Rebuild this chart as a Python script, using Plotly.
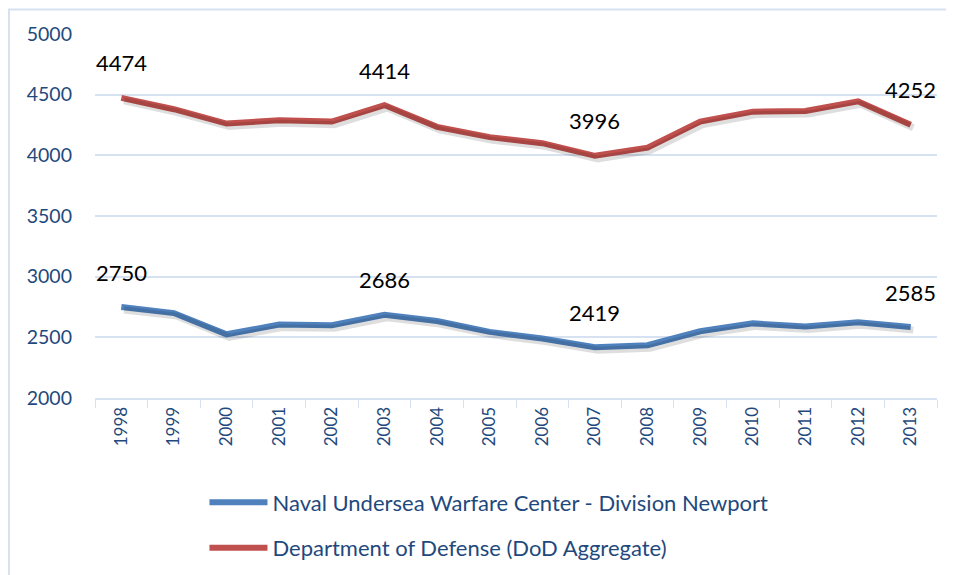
import plotly.graph_objects as go

years = [str(y) for y in range(1998, 2014)]
nuwc = [2750, 2700, 2525, 2605, 2600, 2686, 2635, 2545, 2490, 2419, 2435, 2550, 2615, 2590, 2625, 2585]
dod = [4474, 4380, 4262, 4290, 4278, 4414, 4235, 4150, 4100, 3996, 4063, 4278, 4360, 4365, 4445, 4252]
label_years = ["1998", "2003", "2007", "2013"]

series_names = ["Naval Undersea Warfare Center - Division Newport", "Department of Defense (DoD Aggregate)"]
colors = ["#4F81BD", "#C0504D"]
axis_blue = "#1F497D"
grid = "#D6E2F1"
font_family = "Lato, 'Open Sans', sans-serif"

fig = go.Figure()
# soft shadows (same data drawn on a slightly offset overlay axis)
for vals in [nuwc, dod]:
    fig.add_trace(go.Scatter(
        x=years, y=vals, mode="lines", showlegend=False, hoverinfo="skip",
        line=dict(color="rgba(0,0,0,0.13)", width=7),
        xaxis="x2", yaxis="y2",
    ))
for i, (name, vals) in enumerate(zip(series_names, [nuwc, dod])):
    fig.add_trace(go.Scatter(
        x=years, y=vals, mode="lines", name=name,
        line=dict(color=colors[i], width=6),
        legendgroup=f"g{i}",
    ))

annotations = []
for vals in [nuwc, dod]:
    for yr in label_years:
        idx = years.index(yr)
        v = vals[idx]
        annotations.append(dict(
            x=idx, y=v, text=str(v), showarrow=False, yshift=35,
            font=dict(size=22, color="#000000", family=font_family),
        ))

fig.update_layout(
    width=946, height=567,
    margin=dict(l=87, r=17, t=26, b=177, autoexpand=False),
    paper_bgcolor="white", plot_bgcolor="white",
    font=dict(family=font_family, color=axis_blue),
    showlegend=True,
    legend=dict(
        orientation="v", x=0.13, xanchor="left", y=-0.229, yanchor="top",
        font=dict(size=22, color=axis_blue, family=font_family),
        tracegroupgap=14, bgcolor="rgba(0,0,0,0)", itemwidth=58,
    ),
    annotations=annotations,
    shapes=[dict(
        type="rect", xref="paper", yref="paper",
        x0=-0.1021, x1=1.03, y0=-0.6, y1=1.0673,
        line=dict(color=grid, width=2), layer="below",
    )],
    xaxis2=dict(type="category", range=[-0.55, 15.45], overlaying="x", visible=False,
                categoryorder="array", categoryarray=years),
    yaxis2=dict(range=[2025, 5025], overlaying="y", visible=False),
)

fig.layout.xaxis.update(
    type="category", tickangle=-90, range=[-0.5, 15.5],
    categoryorder="array", categoryarray=years,
    tickfont=dict(size=17, color=axis_blue),
    showline=True, linecolor=grid, linewidth=2,
    ticks="outside", tickson="boundaries", ticklen=8, tickcolor=grid, tickwidth=1,
    showgrid=False,
)
fig.layout.yaxis.update(
    range=[2000, 5000], dtick=500,
    tickfont=dict(size=19.5, color=axis_blue),
    showgrid=True, gridcolor=grid, gridwidth=1.5,
    zeroline=False, showline=False, ticks="", ticklabelstandoff=22,
)

fig.write_html("out.html")
